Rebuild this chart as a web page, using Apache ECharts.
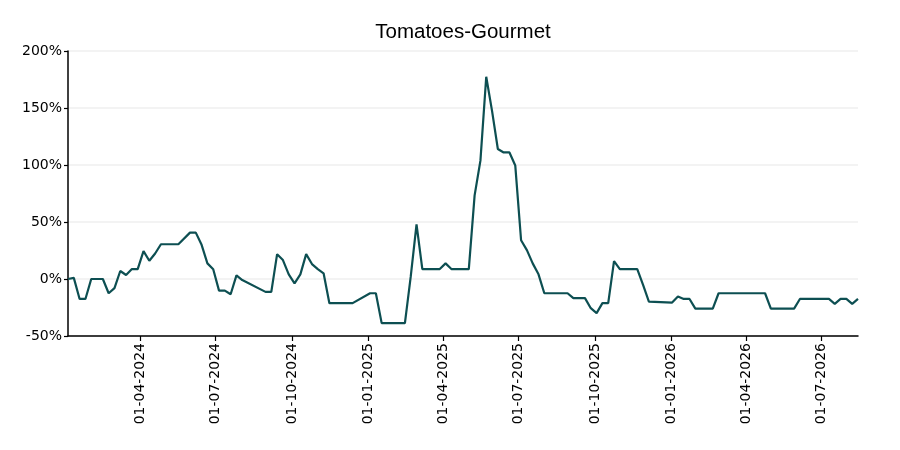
<!DOCTYPE html>
<html>
<head>
    <meta charset="UTF-8">
    <title>Tomatoes-Gourmet</title>
    <style type="text/css">
        body { margin: 0; background: #fff; }
        #mychart { width: 900px; height: 450px; }
    </style>
</head>
<body>
<div id="mychart"></div>
<script src="https://cdn.jsdelivr.net/npm/echarts@6/dist/echarts.min.js"></script>
<script>
    // weekly turning points (flat stretches kept by their ends)
    var dates = [
        '2024-01-05', '2024-01-12', '2024-01-19', '2024-01-26', '2024-02-02', '2024-02-16',
        '2024-02-23', '2024-03-01', '2024-03-08', '2024-03-15', '2024-03-22', '2024-03-29',
        '2024-04-05', '2024-04-12', '2024-04-19', '2024-04-26', '2024-05-17', '2024-05-31',
        '2024-06-07', '2024-06-14', '2024-06-21', '2024-06-28', '2024-07-05', '2024-07-12',
        '2024-07-19', '2024-07-26', '2024-08-02', '2024-08-30', '2024-09-06', '2024-09-13',
        '2024-09-20', '2024-09-27', '2024-10-04', '2024-10-11', '2024-10-18', '2024-10-25',
        '2024-11-01', '2024-11-08', '2024-11-15', '2024-12-13', '2025-01-03', '2025-01-10',
        '2025-01-17', '2025-02-14', '2025-02-21', '2025-02-28', '2025-03-07', '2025-03-28',
        '2025-04-04', '2025-04-11', '2025-05-02', '2025-05-09', '2025-05-16', '2025-05-23',
        '2025-05-30', '2025-06-06', '2025-06-13', '2025-06-20', '2025-06-27', '2025-07-04',
        '2025-07-11', '2025-07-18', '2025-07-25', '2025-08-01', '2025-08-29', '2025-09-05',
        '2025-09-19', '2025-09-26', '2025-10-03', '2025-10-10', '2025-10-17', '2025-10-24',
        '2025-10-31', '2025-11-21', '2025-11-28', '2025-12-05', '2026-01-02', '2026-01-09',
        '2026-01-16', '2026-01-23', '2026-01-30', '2026-02-20', '2026-02-27', '2026-04-24',
        '2026-05-01', '2026-05-29', '2026-06-05', '2026-07-10', '2026-07-17', '2026-07-24',
        '2026-07-31', '2026-08-07', '2026-08-14'
    ];
    var changePct = [
        0, 1, -17.5, -17.5, 0, 0,
        -12.5, -8, 7, 3.5, 8.7, 8.7,
        24.4, 16, 22.4, 30.5, 30.5, 40.7,
        40.7, 30, 13.7, 8.5, -10.2, -10.2,
        -13.4, 3.2, -0.9, -11.3, -11.3, 21.8,
        16.6, 4.1, -3.8, 4.1, 21.8, 13.1,
        8.7, 5, -21.2, -21.2, -12.5, -12.5,
        -38.7, -38.7, 2, 48, 8.7, 8.7,
        13.7, 8.7, 8.7, 73.3, 103.8, 177.4,
        147.5, 114, 111, 111, 99.5, 34,
        25.3, 13.7, 4.1, -12.5, -12.5, -16.8,
        -16.8, -25.6, -29.9, -21.2, -21.2, 15.7,
        8.7, 8.7, -5.2, -19.8, -20.7, -15.4,
        -17.5, -17.5, -26, -26, -12.5, -12.5,
        -26, -26, -17.5, -17.5, -21.8, -17.5,
        -17.5, -21.8, -17.5
    ];
    var tickDates = [
        '2024-04-01', '2024-07-01', '2024-10-01', '2025-01-01', '2025-04-01',
        '2025-07-01', '2025-10-01', '2026-01-01', '2026-04-01', '2026-07-01'
    ];
    var yTicks = [-50, 0, 50, 100, 150, 200];

    function pad(n) { return (n < 10 ? '0' : '') + n; }
    function toTime(s) {
        var p = s.split('-');
        return new Date(+p[0], +p[1] - 1, +p[2]).getTime();
    }

    var points = dates.map(function (d, i) { return [toTime(d), changePct[i]]; });
    var tickTimes = tickDates.map(toTime);

    var mychart = echarts.init(document.getElementById('mychart'));
    mychart.setOption({
        backgroundColor: '#fff',
        animation: false,
        title: {
            text: 'Tomatoes-Gourmet',
            left: 458,
            top: 17,
            textAlign: 'center',
            textStyle: {
                fontFamily: 'Liberation Sans',
                fontSize: 20.5,
                fontWeight: 'normal',
                color: '#000'
            }
        },
        grid: { left: 68, right: 42, top: 51, bottom: 114, containLabel: false },
        xAxis: {
            type: 'value',
            min: points[0][0],
            max: points[points.length - 1][0],
            axisLine: { show: true, onZero: false, lineStyle: { color: '#000', width: 1.5 } },
            axisTick: { show: true, length: 5, customValues: tickTimes, lineStyle: { color: '#000', width: 1.2 } },
            splitLine: { show: false },
            axisLabel: {
                customValues: tickTimes,
                rotate: 90,
                margin: 7,
                color: '#000',
                fontFamily: 'DejaVu Sans',
                fontSize: 14,
                formatter: function (v) {
                    var d = new Date(v);
                    return pad(d.getDate()) + '-' + pad(d.getMonth() + 1) + '-' + d.getFullYear();
                }
            }
        },
        yAxis: {
            type: 'value',
            min: yTicks[0],
            max: yTicks[yTicks.length - 1],
            interval: 50,
            axisLine: { show: true, lineStyle: { color: '#000', width: 1.5 } },
            axisTick: { show: true, length: 4, lineStyle: { color: '#000', width: 1.2 } },
            splitLine: { show: true, lineStyle: { color: '#efefef', width: 1.5 } },
            axisLabel: {
                margin: 6,
                color: '#000',
                fontFamily: 'DejaVu Sans',
                fontSize: 14,
                formatter: '{value}%'
            }
        },
        series: [{
            type: 'line',
            data: points,
            symbol: 'none',
            smooth: false,
            lineStyle: { color: '#0d4f52', width: 2.2 }
        }]
    });
</script>
</body>
</html>
